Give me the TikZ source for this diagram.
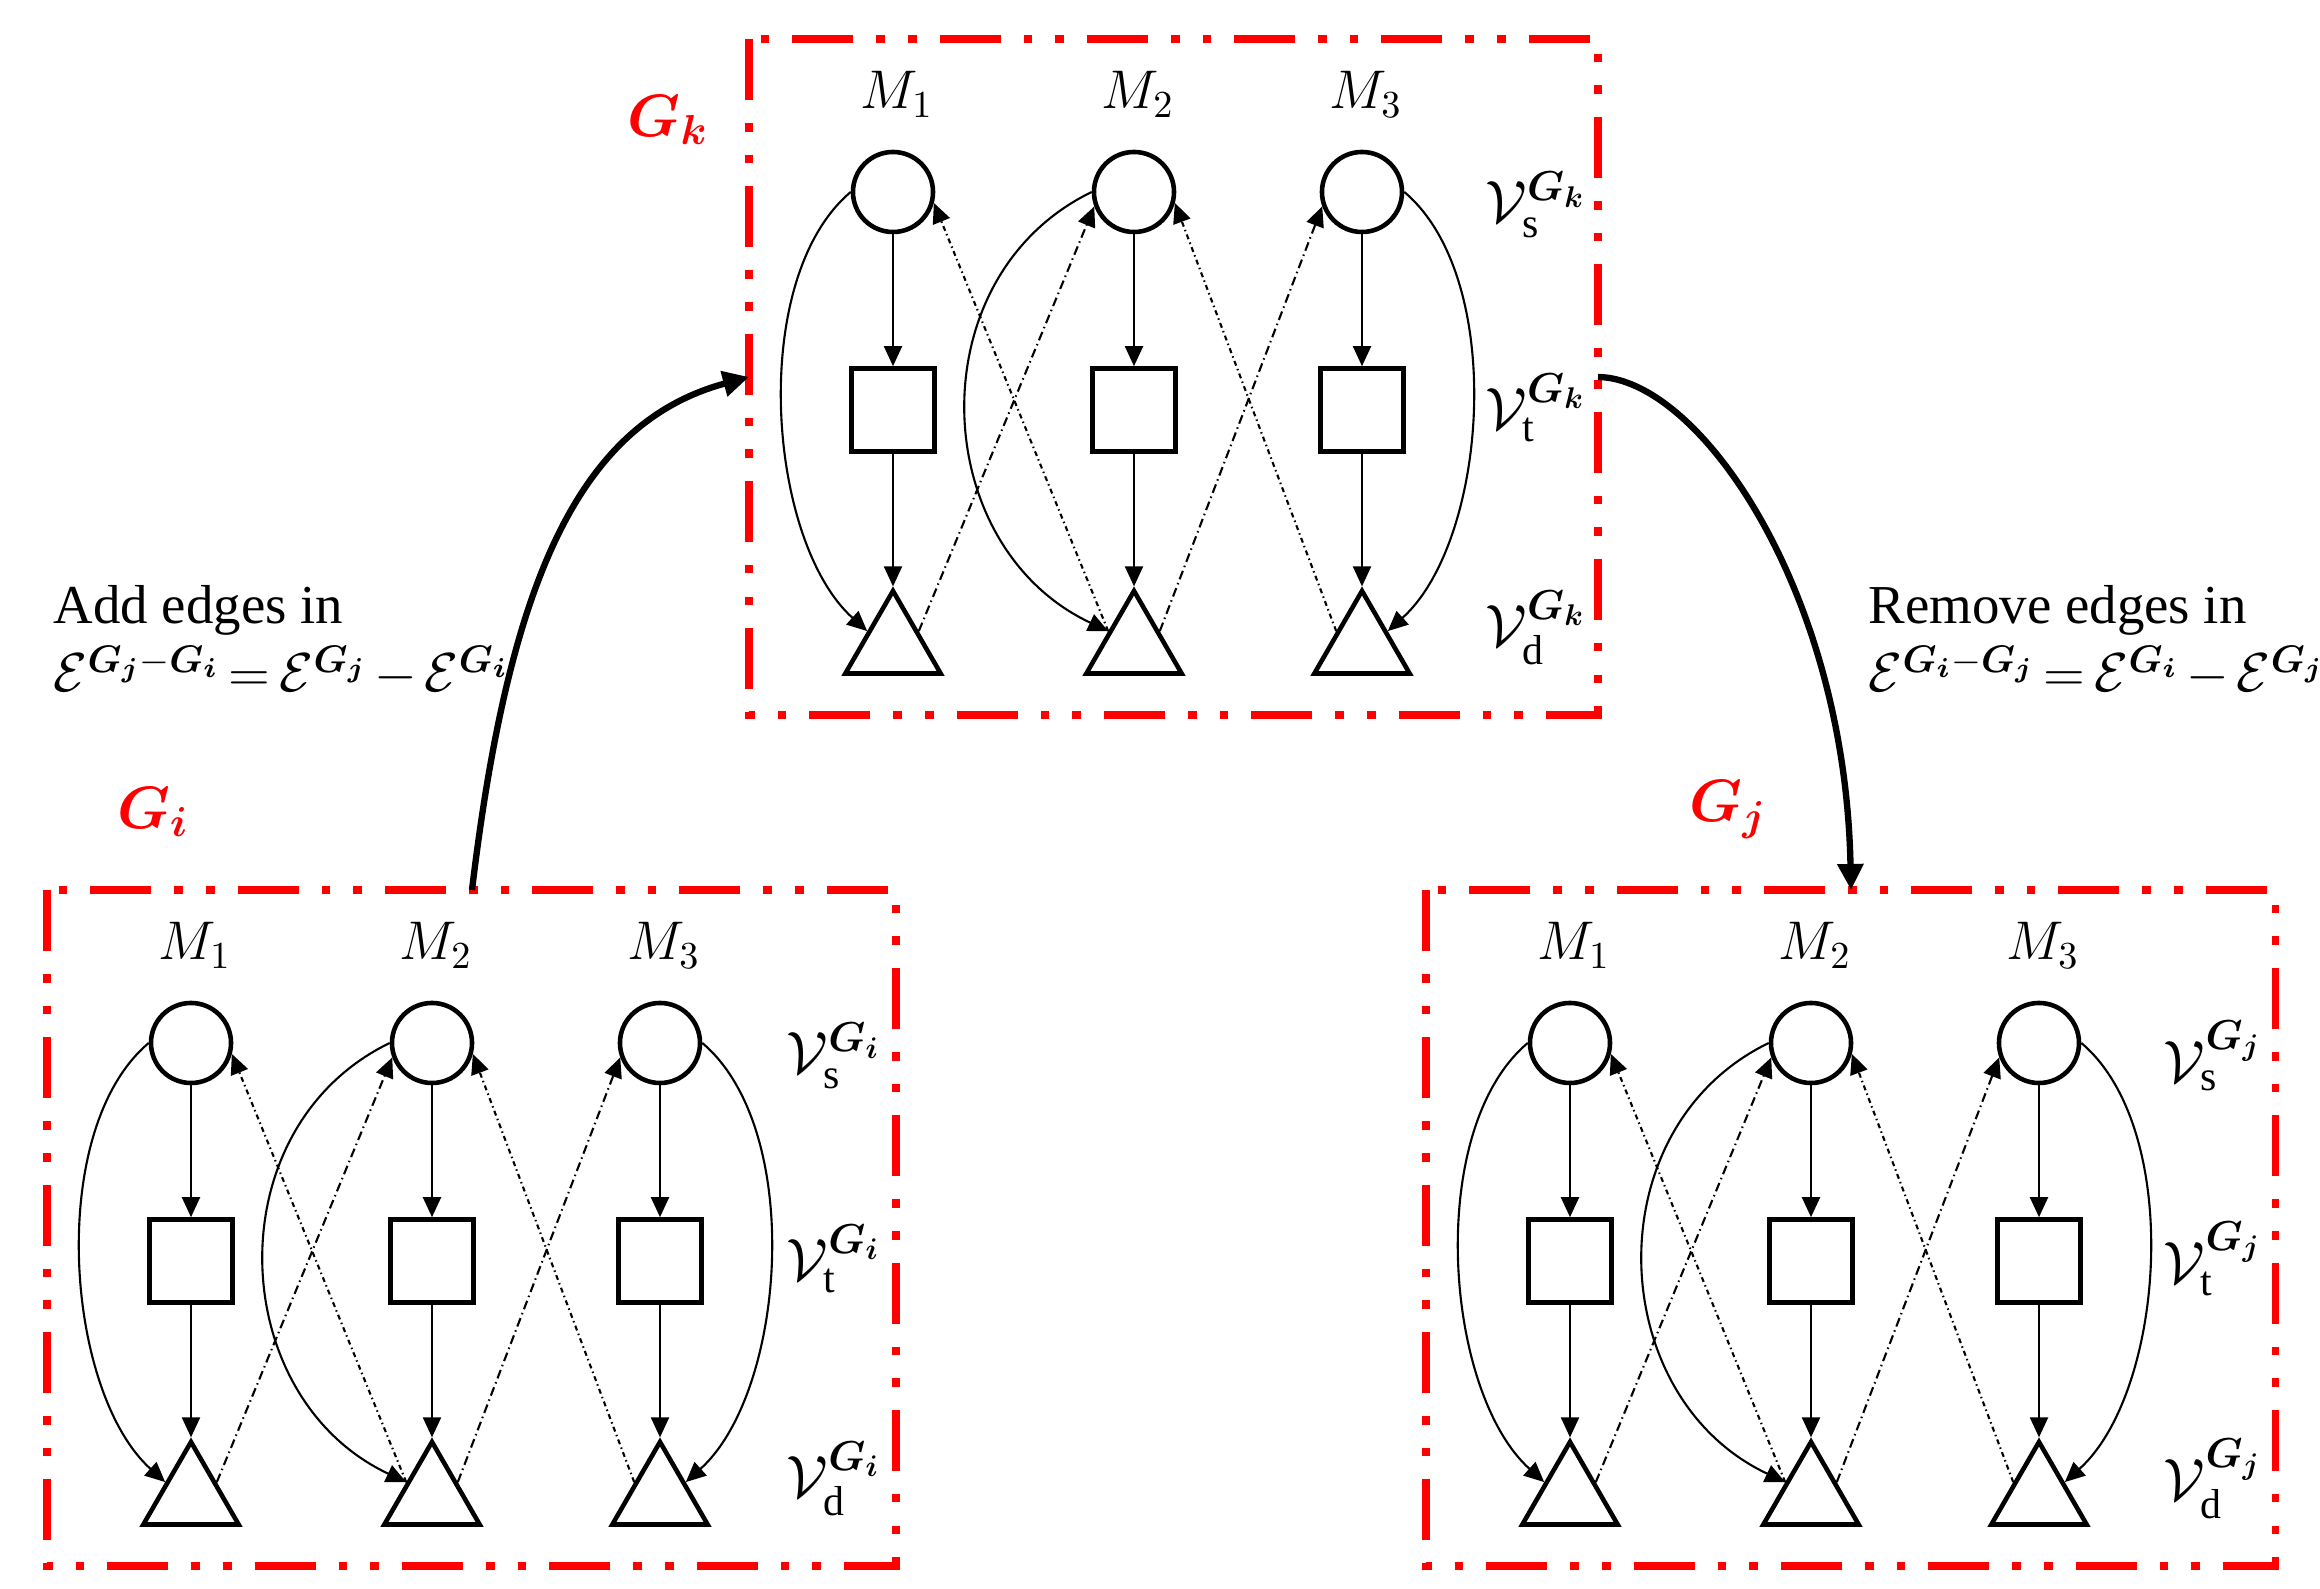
\RequirePackage{fix-cm}
\documentclass[tikz,border=0pt]{standalone}
\usepackage{amsmath}
\usepackage{bm}
\usepackage{fontspec}
\setmainfont{Liberation Serif}
\usetikzlibrary{arrows.meta,shapes.geometric,calc}

\tikzset{
  redbox/.style={draw=red, line width=2pt, dash pattern=on 0.61cm off 0.23cm on 0.086cm off 0.23cm on 0.086cm off 0.23cm},
  thinarr/.style={line width=0.6pt, -{Triangle[length=0.2cm,width=0.18cm]}},
  bigarr/.style={line width=1.8pt, -{Triangle[length=0.26cm,width=0.25cm]}},
  dashdotA/.style={dash pattern=on 0.09cm off 0.04cm on 0.015cm off 0.04cm},
  dashdotB/.style={dash pattern=on 0.05cm off 0.035cm on 0.015cm off 0.035cm},
  srcnode/.style={circle, draw, line width=1.3pt, minimum size=0.8cm, inner sep=0pt},
  tnode/.style={rectangle, draw, line width=1.3pt, minimum size=0.83cm, inner sep=0pt},
  dnode/.style={regular polygon, regular polygon sides=3, draw, line width=1.3pt, minimum size=1.1cm, inner sep=0pt},
  mlabel/.style={inner sep=0pt, anchor=base, font=\fontsize{15.5}{18}\selectfont},
  vlabel/.style={inner sep=0pt, font=\fontsize{17}{20}\selectfont},
  glabel/.style={inner sep=0pt, text=red, font=\fontsize{17}{20}\selectfont},
  txt/.style={inner sep=0pt, anchor=base west, font=\fontsize{15.6}{18.7}\selectfont},
  mgraph/.pic={
    \draw[redbox] (0,0) rectangle (849,676);
    \foreach \n/\x in {1/144, 2/385, 3/613} {
      \node[mlabel] (-m\n) at (\x+4,70) {$M_{\n}$};
      \node[srcnode] (-s\n) at (\x,153) {};
      \node[tnode] (-t\n) at (\x,371) {};
      \node[dnode] (-d\n) at (\x,607) {};
      \draw[thinarr] (-s\n) -- (-t\n);
      \draw[thinarr] (-t\n) -- (-d\n.corner 1);
    }
    \node[vlabel] (-vs) at (787,166) {$\mathcal{V}_{\mathrm{s}}^{\bm{G_{#1}}}$};
    \node[vlabel] (-vt) at (787,369) {$\mathcal{V}_{\mathrm{t}}^{\bm{G_{#1}}}$};
    \node[vlabel] (-vd) at (787,589) {$\mathcal{V}_{\mathrm{d}}^{\bm{G_{#1}}}$};
    \draw[thinarr] (-s1.west) .. controls +(-103,87) and +(-100,-90) .. (-d1.side 1);
    \draw[thinarr] (-s2.west) .. controls +(-175,85) and +(-181,-85) .. (-d2.side 1);
    \draw[thinarr] (-s3.east) .. controls +(103,87) and +(100,-90) .. (-d3.side 3);
    \draw[thinarr, dashdotA] (-d1.side 3) -- (-s2.200);
    \draw[thinarr, dashdotA] (-d2.side 3) -- (-s3.200);
    \draw[thinarr, dashdotB] (-d2.side 1) -- (-s1.-15);
    \draw[thinarr, dashdotB] (-d3.side 1) -- (-s2.-15);
    \coordinate (-top) at (425,0);
    \coordinate (-left) at (0,338);
    \coordinate (-right) at (849,338);
  }
}
\newcommand{\tightmath}{\thickmuskip=3mu plus 1mu\medmuskip=2.5mu plus 1mu}

\begin{document}
\begin{tikzpicture}[x=0.01cm, y=-0.01cm]
  \fill[white] (0,0) rectangle (2320,1589);
  \useasboundingbox (0,0) rectangle (2320,1589);

  \pic (K) at (749,39) {mgraph=k};
  \pic (I) at (47,890) {mgraph=i};
  \pic (J) at (1426,890) {mgraph=j};

  \node[glabel] (gk) at (668,120) {$\bm{G_k}$};
  \node[glabel] (gi) at (153,812) {$\bm{G_i}$};
  \node[glabel] (gj) at (1728,810) {$\bm{G_j}$};

  \draw[bigarr] (I-top) .. controls +(36,-300) and +(-174,47) .. (K-left);
  \draw[bigarr] (K-right) .. controls +(100,1) and +(-6,-302) .. (J-top);

  \node[txt] (addtxt) at (53,624) {Add edges in};
  \node[txt] (addeq) at (53,692) {\tightmath$\mathcal{E}^{\bm{G_j}-\bm{G_i}} = \mathcal{E}^{\bm{G_j}} - \mathcal{E}^{\bm{G_i}}$};
  \node[txt] (remtxt) at (1868,624) {Remove edges in};
  \node[txt] (remeq) at (1868,692) {\tightmath$\mathcal{E}^{\bm{G_i}-\bm{G_j}} = \mathcal{E}^{\bm{G_i}} - \mathcal{E}^{\bm{G_j}}$};
\end{tikzpicture}
\end{document}
